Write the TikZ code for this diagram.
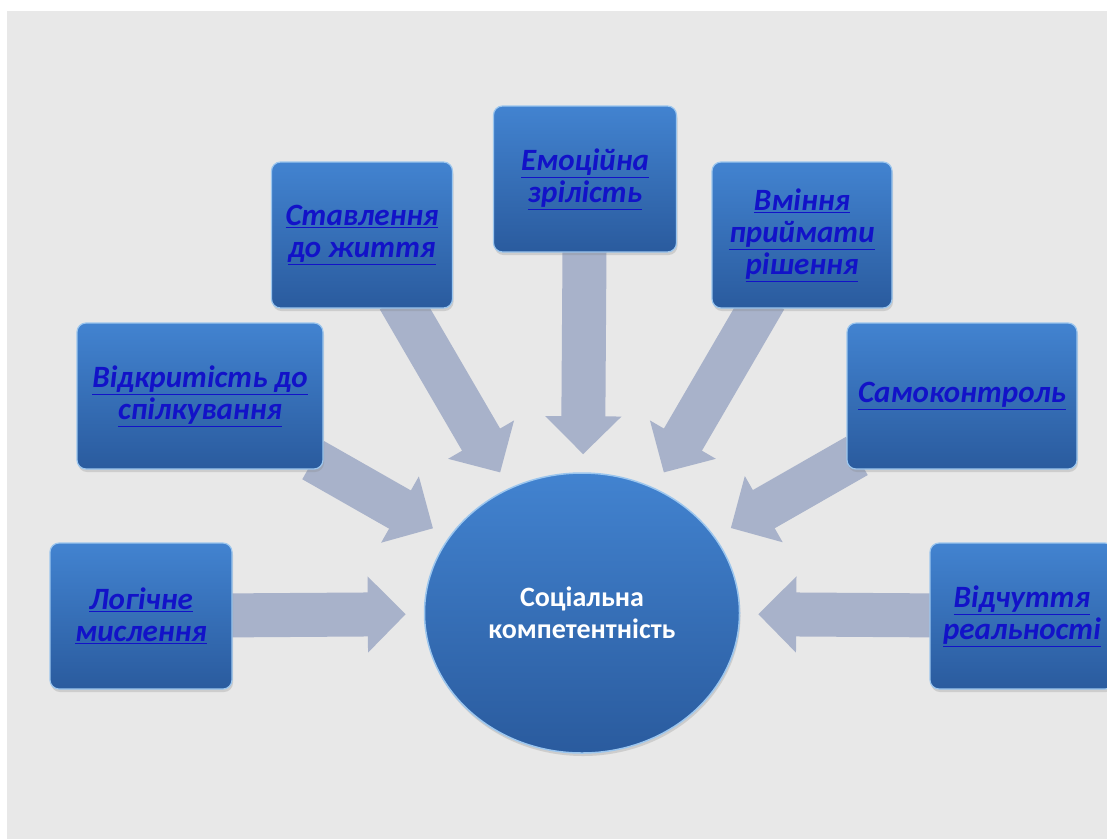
\documentclass[tikz,border=0pt]{standalone}
\usepackage{fontspec}
\setmainfont{Carlito}
\usetikzlibrary{shapes.geometric,arrows.meta,backgrounds,shadows}
\definecolor{paper}{HTML}{E8E8E8}
\definecolor{boxtop}{HTML}{4283D0}
\definecolor{boxbot}{HTML}{2A5B9E}
\definecolor{boxrim}{HTML}{9CC6EE}
\definecolor{linkblue}{HTML}{1212C8}
\definecolor{arrowgray}{HTML}{A8B2CA}

\begin{document}
\begin{tikzpicture}[x=1pt,y=-1pt,
  topic/.style={shape=rectangle,rounded corners=9pt,top color=boxtop,bottom color=boxbot,draw=boxrim,line width=1.2pt,minimum height=146pt,inner sep=0pt,align=center,text=linkblue,font=\fontsize{31}{32}\selectfont\bfseries\itshape,drop shadow={opacity=0.25,shadow xshift=1pt,shadow yshift=-3pt}},
  hub/.style={shape=ellipse,minimum width=315pt,minimum height=280pt,inner sep=0pt,top color=boxtop,bottom color=boxbot,draw=boxrim,line width=1.5pt,align=center,text=white,font=\fontsize{28}{32}\selectfont\bfseries,drop shadow={opacity=0.25,shadow xshift=1pt,shadow yshift=-3pt}},
  feeds/.style={draw=arrowgray,line width=44pt,-{Triangle[width=74pt,length=38pt]},shorten <=-12pt,shorten >=18pt}]
\useasboundingbox (0,0) rectangle (1107,839);
\clip (0,0) rectangle (1107,839);
\node[hub] (H) at (582,613) {Соціальна\\компетентність};
\node[topic,minimum width=182pt] (L) at (141,616) {\underline{Логічне}\\\underline{мислення}};
\node[topic,minimum width=246pt] (V) at (200,396) {\underline{Відкритість до}\\\underline{спілкування}};
\node[topic,minimum width=181pt] (S) at (362,235) {\underline{Ставлення}\\\underline{до життя}};
\node[topic,minimum width=183pt] (E) at (585,179) {\underline{Емоційна}\\\underline{зрілість}};
\node[topic,minimum width=180pt] (R) at (802,235) {\underline{Вміння}\\\underline{приймати}\\\underline{рішення}};
\node[topic,minimum width=230pt] (K) at (962,396) {\underline{Самоконтроль}};
\node[topic,minimum width=184pt] (O) at (1022,616) {\underline{Відчуття}\\\underline{реальності}};
\begin{scope}[on background layer]
\fill[white] (0,0) rectangle (1107,839);
\fill[paper] (7,11) rectangle (1107,839);
\draw[feeds] (L) -- (H);
\draw[feeds] (V) -- (H);
\draw[feeds] (S) -- (H);
\draw[feeds] (E) -- (H);
\draw[feeds] (R) -- (H);
\draw[feeds] (K) -- (H);
\draw[feeds] (O) -- (H);
\end{scope}
\end{tikzpicture}
\end{document}
